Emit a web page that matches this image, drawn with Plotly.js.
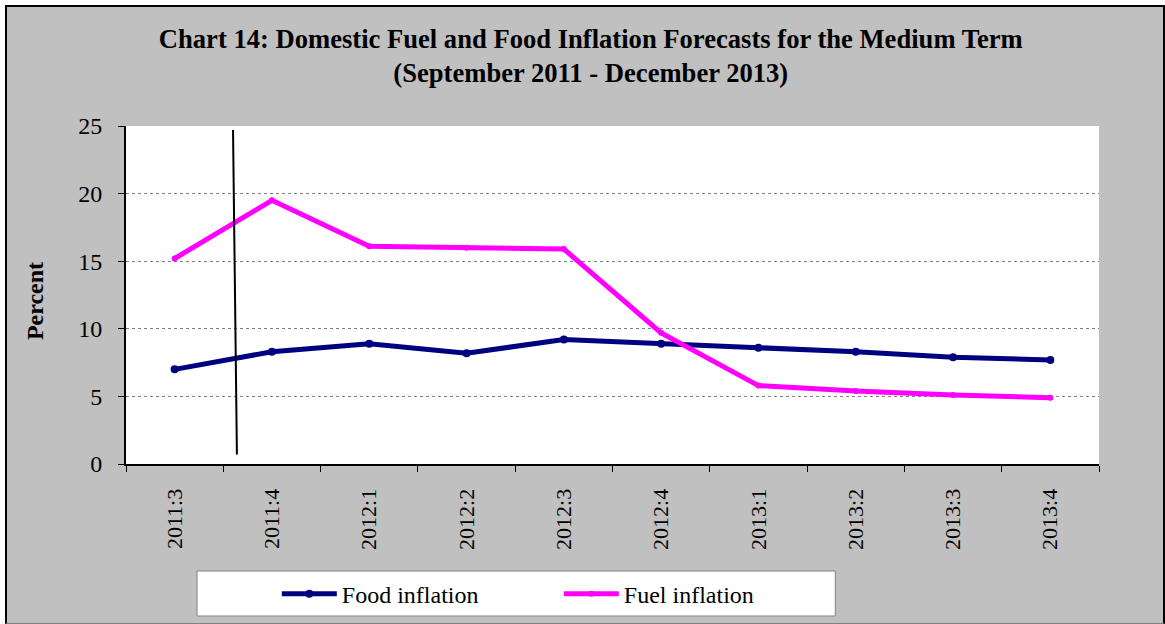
<!DOCTYPE html>
<html>
<head>
<meta charset="utf-8">
<script src="https://cdn.plot.ly/plotly-3.0.1.min.js"></script>
<style>
  html, body { margin: 0; padding: 0; background: #ffffff; width: 1165px; height: 624px; overflow: hidden; }
  #frame { position: absolute; left: 5px; top: 5px; width: 1156px; height: 616px;
           border-left: 2px solid #000; border-top: 2px solid #000; border-right: 2px solid #000; border-bottom: 1px solid #808080; }
  #chart { width: 1156px; height: 616px; }
</style>
</head>
<body>
<div id="frame"><div id="chart"></div></div>
<script>
// ---- Data ----
const quarters = ["2011:3", "2011:4", "2012:1", "2012:2", "2012:3", "2012:4", "2013:1", "2013:2", "2013:3", "2013:4"];
const foodInflation = [7.0, 8.3, 8.9, 8.2, 9.2, 8.9, 8.6, 8.3, 7.9, 7.7];
const fuelInflation = [15.2, 19.5, 16.1, 16.0, 15.9, 9.7, 5.8, 5.4, 5.1, 4.9];
const yTicks = [0, 5, 10, 15, 20, 25];
// forecast divider line (category-index x, percent y)
const dividerX = [0.60, 0.64];
const dividerY = [24.7, 0.7];

const serif = "Liberation Serif, Times New Roman, serif";

const traces = [
  {
    x: quarters, y: foodInflation, name: "Food inflation",
    type: "scatter", mode: "lines+markers",
    line: { color: "#000080", width: 5 },
    marker: { color: "#000080", size: 8, symbol: "circle" }
  },
  {
    x: quarters, y: fuelInflation, name: "Fuel inflation",
    type: "scatter", mode: "lines+markers",
    line: { color: "#FF00FF", width: 5 },
    marker: { color: "#FF00FF", size: 6, symbol: "circle" }
  }
];

const layout = {
  width: 1156, height: 616,
  paper_bgcolor: "#C0C0C0",
  plot_bgcolor: "#FFFFFF",
  margin: { l: 119, r: 64, t: 119, b: 159, pad: 0, autoexpand: false },
  font: { family: serif, color: "#000000" },
  title: {
    text: "<b>Chart 14: Domestic Fuel and Food Inflation Forecasts for the Medium Term</b><br><b>(September 2011 - December 2013)</b>",
    font: { family: serif, size: 26.6, color: "#000000" },
    x: 0.505, xref: "container", xanchor: "center",
    y: 0.934, yref: "container", yanchor: "top"
  },
  xaxis: {
    type: "category",
    range: [-0.5, quarters.length - 0.5],
    tickson: "boundaries",
    ticks: "outside", ticklen: 6, tickwidth: 1, tickcolor: "#000000",
    tickangle: -90,
    tickfont: { family: serif, size: 22, color: "#000000" },
    ticklabelstandoff: 14,
    showline: true, linecolor: "#000000", linewidth: 2,
    showgrid: false, zeroline: false, fixedrange: true, automargin: false
  },
  yaxis: {
    range: [0, 25],
    tickvals: yTicks,
    ticks: "outside", ticklen: 6, tickwidth: 1, tickcolor: "#000000",
    tickfont: { family: serif, size: 24, color: "#000000" },
    ticklabelstandoff: 11,
    showline: true, linecolor: "#000000", linewidth: 2,
    showgrid: true, gridcolor: "#808080", gridwidth: 1, griddash: "dot",
    zeroline: false, fixedrange: true, automargin: false
  },
  annotations: [
    {
      text: "<b>Percent</b>", textangle: -90, showarrow: false,
      xref: "paper", yref: "paper", x: -0.0935, y: 0.482,
      xanchor: "center", yanchor: "middle",
      font: { family: serif, size: 24, color: "#000000" }
    }
  ],
  showlegend: true,
  legend: {
    orientation: "h",
    x: 0.155, xanchor: "left",
    y: -0.385, yanchor: "middle",
    bgcolor: "rgba(0,0,0,0)", borderwidth: 0,
    font: { family: serif, size: 24, color: "#000000" },
    itemwidth: 55,
    entrywidth: 212,
    traceorder: "normal"
  },
  shapes: [
    {
      type: "rect", xref: "paper", yref: "paper",
      x0: 0.073, x1: 0.729, y0: -0.3166, y1: -0.4497,
      fillcolor: "#FFFFFF", line: { color: "#808080", width: 1 }, layer: "below"
    },
    {
      type: "line", xref: "x", yref: "y",
      x0: dividerX[0], x1: dividerX[1], y0: dividerY[0], y1: dividerY[1],
      line: { color: "#000000", width: 2 }
    }
  ]
};

Plotly.newPlot("chart", traces, layout, { displayModeBar: false, staticPlot: true });
</script>
</body>
</html>
